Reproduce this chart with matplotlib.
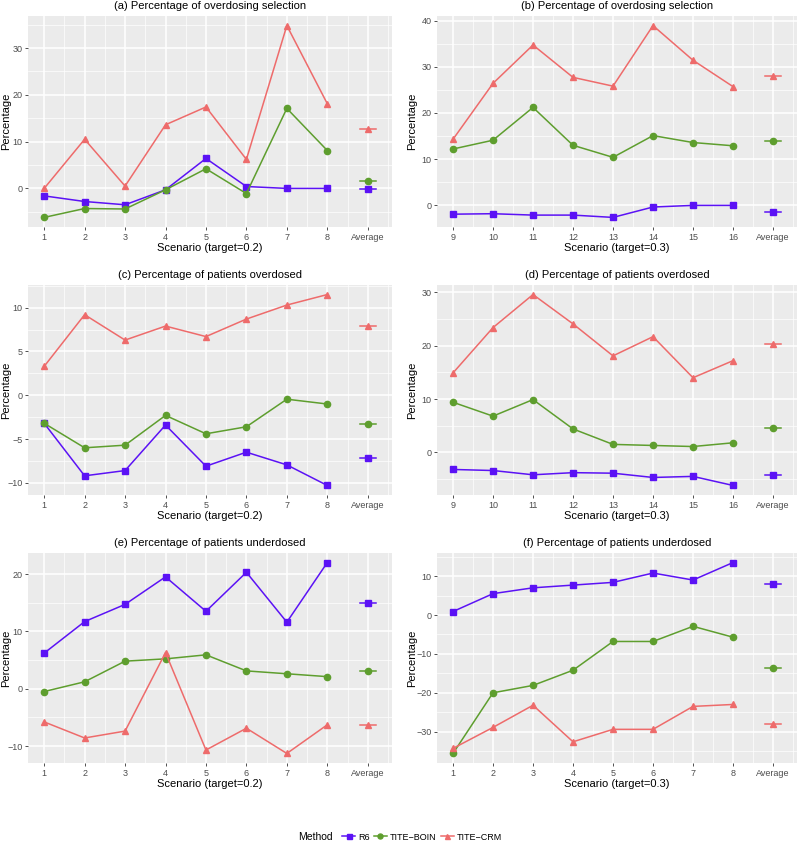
import matplotlib
matplotlib.use("Agg")
import matplotlib.pyplot as plt
from matplotlib.ticker import MultipleLocator, FixedLocator
from matplotlib.offsetbox import HPacker

plt.rcParams['font.family'] = ['Liberation Sans', 'DejaVu Sans']

x_labels_low = ["1", "2", "3", "4", "5", "6", "7", "8", "Average"]
x_labels_high = ["9", "10", "11", "12", "13", "14", "15", "16", "Average"]

# (a) overdosing selection, target 0.2
a_r6 = [-1.6, -2.8, -3.5, -0.3, 6.4, 0.4, 0.0, 0.0, -0.2]
a_boin = [-6.2, -4.3, -4.4, -0.3, 4.2, -1.1, 17.1, 8.1, 1.6]
a_crm = [0.0, 10.5, 0.5, 13.6, 17.4, 6.2, 34.8, 18.1, 12.6]

# (b) overdosing selection, target 0.3
b_r6 = [-1.9, -1.8, -2.1, -2.1, -2.6, -0.35, 0.0, 0.0, -1.4]
b_boin = [12.2, 14.1, 21.2, 13.0, 10.4, 15.1, 13.6, 12.9, 14.0]
b_crm = [14.3, 26.4, 34.7, 27.7, 25.8, 38.9, 31.4, 25.7, 28.0]

# (c) patients overdosed, target 0.2
c_r6 = [-3.2, -9.2, -8.6, -3.4, -8.1, -6.5, -7.95, -10.3, -7.2]
c_boin = [-3.2, -6.0, -5.7, -2.3, -4.4, -3.6, -0.45, -1.0, -3.3]
c_crm = [3.3, 9.2, 6.3, 7.9, 6.7, 8.7, 10.3, 11.5, 7.95]

# (d) patients overdosed, target 0.3
d_r6 = [-3.2, -3.4, -4.2, -3.8, -3.9, -4.7, -4.5, -6.2, -4.2]
d_boin = [9.4, 6.8, 9.9, 4.4, 1.5, 1.3, 1.1, 1.8, 4.5]
d_crm = [14.9, 23.4, 29.6, 24.1, 18.1, 21.7, 14.0, 17.2, 20.3]

# (e) patients underdosed, target 0.2
e_r6 = [6.2, 11.7, 14.7, 19.5, 13.5, 20.3, 11.6, 22.0, 15.0]
e_boin = [-0.5, 1.2, 4.8, 5.2, 5.9, 3.1, 2.6, 2.1, 3.1]
e_crm = [-5.8, -8.6, -7.4, 6.3, -10.7, -6.9, -11.3, -6.3, -6.4]

# (f) patients underdosed, target 0.3
f_r6 = [0.9, 5.5, 7.0, 7.7, 8.4, 10.8, 9.0, 13.5, 7.9]
f_boin = [-35.6, -20.0, -18.1, -14.2, -6.8, -6.8, -2.9, -5.7, -13.7]
f_crm = [-34.3, -28.9, -23.2, -32.6, -29.4, -29.4, -23.5, -23.0, -28.1]

methods = ["R6", "TITE\u2212BOIN", "TITE\u2212CRM"]
colors = ["#5B12F5", "#5E9E2E", "#EE6B6B"]
markers = ["s", "o", "^"]

panels = [
    ("(a) Percentage of overdosing selection", "Scenario (target=0.2)", x_labels_low, [a_r6, a_boin, a_crm], 10),
    ("(b) Percentage of overdosing selection", "Scenario (target=0.3)", x_labels_high, [b_r6, b_boin, b_crm], 10),
    ("(c) Percentage of patients overdosed", "Scenario (target=0.2)", x_labels_low, [c_r6, c_boin, c_crm], 5),
    ("(d) Percentage of patients overdosed", "Scenario (target=0.3)", x_labels_high, [d_r6, d_boin, d_crm], 10),
    ("(e) Percentage of patients underdosed", "Scenario (target=0.2)", x_labels_low, [e_r6, e_boin, e_crm], 10),
    ("(f) Percentage of patients underdosed", "Scenario (target=0.3)", x_labels_low, [f_r6, f_boin, f_crm], 10),
]

W, H = 800, 846
fig = plt.figure(figsize=(8, 8.46), dpi=100)

col_x = [(28, 392), (437, 797)]
ylab_x = [11, 417]
row_y = [(16, 227), (285, 495), (553, 763)]

for i, (title, xlab, xticks, series, step) in enumerate(panels):
    r, c = divmod(i, 2)
    x0, x1 = col_x[c]
    y0, y1 = row_y[r]
    ax = fig.add_axes([x0 / W, 1 - y1 / H, (x1 - x0) / W, (y1 - y0) / H])
    ax.set_facecolor("#EBEBEB")
    for s in ax.spines.values():
        s.set_visible(False)

    pos = list(range(1, 10))
    for vals, col, mk, name in zip(series, colors, markers, methods):
        ax.plot(pos[:8], vals[:8], color=col, lw=1.1, marker=mk, ms=4.5, zorder=3, label=name)
        ax.plot([pos[8] - 0.2, pos[8] + 0.2], [vals[8], vals[8]], color=col, lw=1.1, zorder=3)
        ax.plot([pos[8]], [vals[8]], color=col, marker=mk, ms=4.5, zorder=4)

    ax.set_xlim(0.6, 9.6)
    ax.set_xticks(pos)
    ax.set_xticklabels(xticks)
    ax.xaxis.set_minor_locator(FixedLocator([p + 0.5 for p in range(0, 10)]))
    ax.yaxis.set_major_locator(MultipleLocator(step))
    ax.yaxis.set_minor_locator(MultipleLocator(step / 2))
    ax.grid(True, which="major", color="white", lw=1.1)
    ax.grid(True, which="minor", color="white", lw=0.5)
    ax.set_axisbelow(True)
    ax.tick_params(which="major", length=2, width=0.6, color="#333333",
                   labelsize=6.5, labelcolor="#4D4D4D", pad=2)
    ax.tick_params(which="minor", length=0)
    ax.set_title(title, fontsize=8, pad=5)
    ax.set_xlabel(xlab, fontsize=8, labelpad=1)
    ax.set_ylabel("Percentage", fontsize=8)
    ax.yaxis.set_label_coords((ylab_x[c] - x0) / (x1 - x0), 0.5)

    if i == 0:
        handles, labels = ax.get_legend_handles_labels()

leg = fig.legend(handles, labels, loc="center", bbox_to_anchor=(0.5, 1 - 837 / H), ncol=3,
                 frameon=False, fontsize=6.5, title="Method", title_fontsize=7.5,
                 handlelength=1.4, handletextpad=0.35, columnspacing=0.5, markerscale=0.8)
# put the title on the left of the keys, as ggplot does
title_box = leg._legend_title_box
keys_box = leg._legend_handle_box
leg._legend_box._children = [HPacker(pad=0, sep=7, align="center", children=[title_box, keys_box])]

fig.savefig("out.png", dpi=100)
